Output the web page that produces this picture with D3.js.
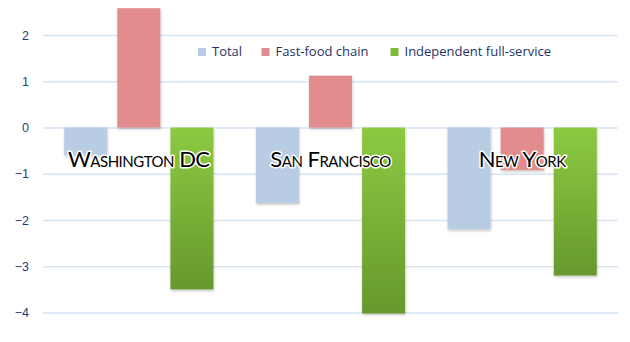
<!DOCTYPE html>
<html>
<head>
<meta charset="utf-8">
<script src="https://cdn.jsdelivr.net/npm/d3@7"></script>
<style>
  html, body { margin: 0; padding: 0; background: #fff; }
  svg { display: block; }
</style>
</head>
<body>
<svg id="chart" width="630" height="342"></svg>
<script>
// Change by city for three restaurant types
const cities = ["Washington DC", "San Francisco", "New York"];
const seriesNames = ["Total", "Fast-food chain", "Independent full-service"];
const totalValues = [-0.6, -1.63, -2.2];
const fastFoodValues = [2.58, 1.12, -0.92];
const independentValues = [-3.5, -4.02, -3.2];
const yTicks = [2, 1, 0, -1, -2, -3, -4];

const seriesValues = [totalValues, fastFoodValues, independentValues];
const rows = cities.map((c, i) => ({
  city: c,
  values: seriesNames.map((s, k) => ({ series: s, value: seriesValues[k][i] }))
}));

const svg = d3.select("#chart");
const margin = { left: 43, right: 12, top: 35, bottom: 29.5 };
const W = 630, H = 342;

const x0 = d3.scaleBand().domain(cities).range([margin.left, W - margin.right]).padding(0);
const x1 = d3.scaleBand().domain(seriesNames).range([0, x0.bandwidth()])
  .paddingInner(0.19).paddingOuter(0.4);
const y = d3.scaleLinear().domain([-4, 2]).range([H - margin.bottom, margin.top]);

const color = d3.scaleOrdinal().domain(seriesNames).range(["#b8cce4", "#e38c8e", "url(#greenGrad)"]);
const swatch = d3.scaleOrdinal().domain(seriesNames).range(["#b8cce4", "#e38c8e", "#7fbb3a"]);

const defs = svg.append("defs");
const g = defs.append("linearGradient").attr("id", "greenGrad")
  .attr("x1", 0).attr("y1", 0).attr("x2", 0).attr("y2", 1);
g.append("stop").attr("offset", "0%").attr("stop-color", "#8cca42");
g.append("stop").attr("offset", "100%").attr("stop-color", "#67982d");

const sh = defs.append("filter").attr("id", "barShadow")
  .attr("x", "-20%").attr("y", "-20%").attr("width", "140%").attr("height", "140%");
sh.append("feDropShadow").attr("dx", 0.5).attr("dy", 1.5).attr("stdDeviation", 1.2)
  .attr("flood-color", "#000").attr("flood-opacity", 0.25);

// Gridlines and y axis labels
const yAxis = d3.axisLeft(y).tickValues(yTicks).tickSize(-(W - margin.left - margin.right))
  .tickFormat(d3.format("d")).tickPadding(14);
const ya = svg.append("g").attr("transform", `translate(${margin.left},0)`).call(yAxis);
ya.select(".domain").remove();
ya.selectAll(".tick line").attr("stroke", "#d6e4f4").attr("stroke-width", 1.3);
ya.selectAll(".tick text")
  .attr("fill", "#1f3d7a")
  .style("font-family", "'Liberation Sans', Arial, sans-serif")
  .style("font-size", "12.5px");

// Bars
const groups = svg.append("g").selectAll("g").data(rows).join("g")
  .attr("transform", d => `translate(${x0(d.city)},0)`);
groups.selectAll("rect").data(d => d.values).join("rect")
  .attr("x", d => x1(d.series))
  .attr("width", x1.bandwidth())
  .attr("y", d => y(Math.max(0, d.value)))
  .attr("height", d => Math.abs(y(d.value) - y(0)))
  .attr("fill", d => color(d.series))
  .attr("filter", "url(#barShadow)");

// Legend
const legendItems = [
  { name: seriesNames[0], x: 198 },
  { name: seriesNames[1], x: 261.5 },
  { name: seriesNames[2], x: 390.5 }
];
const lg = svg.append("g").selectAll("g").data(legendItems).join("g")
  .attr("transform", d => `translate(${d.x},48)`);
lg.append("rect").attr("width", 8).attr("height", 8).attr("fill", d => swatch(d.name));
lg.append("text").attr("x", 14).attr("y", 8.2)
  .text(d => d.name)
  .attr("fill", "#1f3366")
  .style("font-family", "'Open Sans', 'Noto Sans', sans-serif")
  .style("font-size", "13px");

// City labels
svg.append("g").selectAll("text").data(cities).join("text")
  .attr("x", d => x0(d) + x0.bandwidth() / 2)
  .attr("y", 166.5)
  .attr("text-anchor", "middle")
  .text(d => d)
  .style("font-family", "Lato, 'Open Sans', sans-serif")
  .style("font-variant", "small-caps")
  .style("font-size", "22px")
  .style("letter-spacing", "-0.5px")
  .attr("fill", "#000")
  .attr("stroke", "#fff")
  .attr("stroke-width", 3)
  .attr("stroke-linejoin", "round")
  .attr("paint-order", "stroke");
</script>
</body>
</html>
